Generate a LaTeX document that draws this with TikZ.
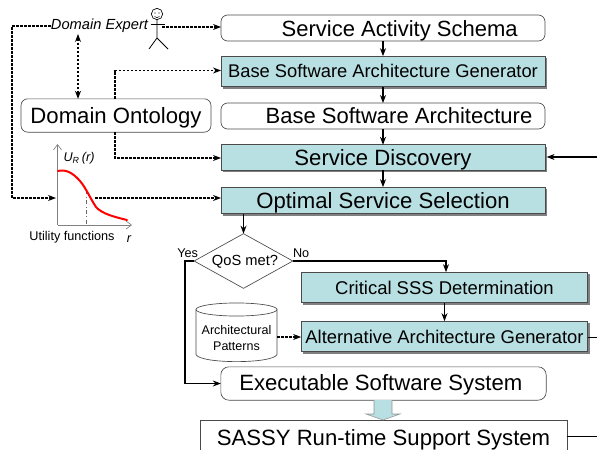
\documentclass[tikz,border=0pt]{standalone}
\usepackage{fontspec}
\setmainfont{Liberation Sans}
\usetikzlibrary{arrows.meta,shapes.geometric,shadows}
\definecolor{boxteal}{HTML}{B8DFE2}
\definecolor{edgegray}{HTML}{4A4A4A}
\newcommand{\fs}[1]{\fontsize{#1}{#1}\selectfont}
\newcommand{\tx}[3]{\raisebox{-#1pt}[0pt][0pt]{\fs{#2}#3}}
\tikzset{
  x=0.75pt,y=-0.75pt,
  tip/.style={-{Stealth[length=6pt,width=4.5pt]}},
  flow/.style={tip,line width=0.9pt,black},
  dots/.style={line width=0.9pt,black,dash pattern=on 1.9pt off 1.1pt},
  base/.style={inner sep=0pt,outer sep=0pt,align=center,text=black},
  softbox/.style={base,draw=edgegray,line width=0.5pt,rounded corners=5pt,fill=white},
  tealbox/.style={base,draw=edgegray,line width=0.7pt,fill=boxteal,
    drop shadow={shadow xshift=1.6pt,shadow yshift=-1.6pt,fill=gray,opacity=1}},
}
\begin{document}
\begin{tikzpicture}
\useasboundingbox (0,0) rectangle (597,450);
% main column
\node[softbox,minimum width=243pt,minimum height=19.5pt] (sas) at (383,28) {\hspace*{25pt}\tx{6.3}{16.5}{Service Activity Schema}};
\node[tealbox,minimum width=243pt,minimum height=23pt] (bsag) at (383,71.5) {\tx{4.5}{13.75}{Base Software Architecture Generator}};
\node[softbox,minimum width=243pt,minimum height=19.5pt] (bsa) at (383,116) {\hspace*{24pt}\tx{5.6}{16.5}{Base Software Architecture}};
\node[tealbox,minimum width=243pt,minimum height=19pt] (sd) at (383,157.5) {\tx{6}{16.6}{Service Discovery}};
\node[tealbox,minimum width=243pt,minimum height=20pt] (oss) at (383,200.5) {\tx{5.9}{16.6}{Optimal Service Selection}};
\node[softbox,minimum width=142.5pt,minimum height=25pt] (onto) at (116,115.5) {\tx{5.9}{16.6}{Domain Ontology}};
% decision
\node[base,diamond,draw=edgegray,line width=0.5pt,minimum width=74pt,minimum height=41pt,aspect=1.8] (qos) at (243.5,261) {};
\node[base] (qostext) at (245,261) {\tx{3.5}{11}{QoS met?}};
\node[base,anchor=east] (yes) at (198,253) {\fs{9.5}Yes};
\node[base,anchor=west] (no) at (293,253) {\fs{9.5}No};
\node[tealbox,minimum width=215pt,minimum height=23pt] (crit) at (444.5,287.5) {\tx{5.6}{13.85}{Critical SSS Determination}};
\node[tealbox,minimum width=215pt,minimum height=23pt] (alt) at (444.5,336.5) {\tx{5.1}{13.8}{Alternative Architecture Generator}};
% cylinder
\node[base,minimum width=60.75pt,minimum height=43.5pt] (cyl) at (236.5,332) {};
\draw[edgegray,line width=0.5pt,fill=white] (cyl.west |- 0,309.5) -- (cyl.west |- 0,354.5) .. controls (200,364) and (273,364) .. (cyl.east |- 0,354.5) -- (cyl.east |- 0,309.5);
\draw[edgegray,line width=0.5pt,fill=white] (236.5,309.5) ellipse [x radius=30.4pt,y radius=4.9pt];
\node[base,text width=60pt] (cyltext) at (236.5,338) {\fontsize{9.4}{11.25}\selectfont Architectural\\Patterns};
\node[softbox,minimum width=244pt,minimum height=25pt,rounded corners=6pt] (exec) at (383.5,383.5) {\hspace*{-4pt}\tx{4.9}{16.6}{Executable Software System}};
\node[base,minimum width=275pt,minimum height=22.5pt] (sassy) at (383.5,435) {\tx{7.5}{16.6}{SASSY Run-time Support System}};
\draw[edgegray,line width=0.5pt] (sassy.south west)--(sassy.north west)--(sassy.north east)--(sassy.south east);
% block arrow
\draw[draw=edgegray!60,line width=0.4pt,fill=boxteal] (374,400) -- (374,414) -- (366,414) -- (383,420) -- (400,414) -- (392,414) -- (392,400);
% free ends
\coordinate (rsd) at (597,157);
\coordinate (ralt) at (597,337);
\coordinate (rsassy) at (597,436);
\coordinate (chartin) at (56,198);
\coordinate (chartout) at (95,198);
\coordinate (nobend) at (446,261);
\coordinate (yesbendA) at (185,261);
\coordinate (yesbendB) at (185,383.5);
% solid connectors
\draw[flow] (sas.south) -- (bsag.north);
\draw[flow] (bsag.south) -- (bsa.north);
\draw[flow] (bsa.south) -- (sd.north);
\draw[flow] (sd.south) -- (oss.north);
\draw[flow] (oss.south -| qos.north) -- (qos.north);
\draw[flow] (qos.east) -- (nobend) -- (nobend |- crit.north);
\draw[flow] (crit.south) -- (alt.north);
\draw[flow] (qos.west) -- (yesbendA) -- (yesbendB) -- (exec.west);
\draw[flow] (rsd) -- ([xshift=1.2pt]sd.east |- rsd);
\draw[line width=0.7pt] (alt.east |- ralt) -- (ralt);
\draw[line width=0.7pt] (sassy.east |- rsassy) -- (rsassy);
% actor
\node[base,circle,draw=black,line width=0.5pt,minimum size=8.5pt] (head) at (157,14) {};
\fill[black] (155,13) circle (0.45pt) (159,13) circle (0.45pt);
\draw[line width=0.4pt] (154.5,16.5) .. controls (156,18) and (158,18) .. (159.5,16.5);
\draw[line width=0.6pt] (head.south) -- (157,38) coordinate (hip) -- (149,49);
\draw[line width=0.6pt] (hip) -- (168,49);
\draw[line width=0.6pt] (151,24) -- (165,24);
\node[base,anchor=east] (de) at (148,26) {\fs{11}\itshape Domain Expert};
% dashed connectors
\coordinate (actorright) at (162,27);
\draw[dots,tip] (actorright) -- (sas.west |- actorright);
\draw[dots,{Stealth[length=6pt,width=4.5pt]}-{Stealth[length=6pt,width=4.5pt]}] (78,34) -- (onto.north -| 78,34);
\draw[dots,tip] (onto.north -| 115,0) -- (115,70.5) -- (bsag.west |- 0,70.5);
\draw[dots,tip] (onto.south -| 115,0) -- (115,158) -- (sd.west |- 0,158);
\draw[dots,tip] (de.west) -- (12,26) -- (12,198) -- (chartin);
\draw[dots,tip] (chartout) -- (oss.west |- chartout);
\draw[dots,tip] (cyl.east |- ralt) -- (alt.west |- ralt);
% utility chart
\draw[gray,line width=0.5pt,-{Straight Barb[length=4pt,width=6pt]}] (57.5,225) -- (57.5,144);
\draw[gray,line width=0.5pt,-{Straight Barb[length=4pt,width=6pt]}] (57.5,225) -- (132,225);
\draw[gray!80!black,line width=0.4pt,dash dot] (86.5,190) -- (86.5,225);
\draw[red,line width=1.5pt,line cap=round] (58,171) .. controls (66,169) and (73,173) .. (80,181) .. controls (86,188) and (90,198) .. (96,207) .. controls (102,214) and (115,217) .. (127,220);
\node[base] (ur) at (79,158) {\fs{9.5}\itshape U\textsubscript{R}\,(r)};
\node[base] (uf) at (72,237) {\fs{9.5}Utility functions};
\node[base] (rr) at (129,239) {\fs{9.5}\itshape r};
\end{tikzpicture}
\end{document}
